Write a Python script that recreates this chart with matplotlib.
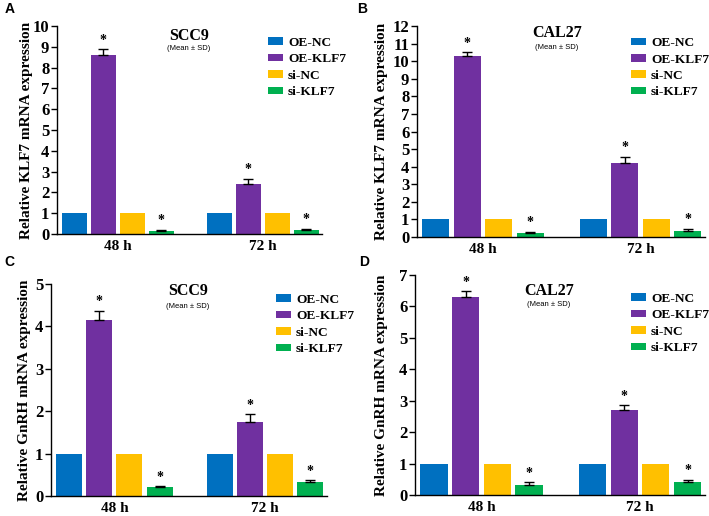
import matplotlib
matplotlib.use("Agg")
import matplotlib.pyplot as plt
import numpy as np

plt.rcParams["font.family"] = "Liberation Serif"
plt.rcParams["font.weight"] = "bold"

groups = ["48 h", "72 h"]
series = ["OE-NC", "OE-KLF7", "si-NC", "si-KLF7"]
colors = ["#0070C0", "#7030A0", "#FFC000", "#00B050"]

# values per series, [48 h, 72 h]
klf7_scc9 = [[1, 1], [8.6, 2.4], [1, 1], [0.15, 0.2]]
klf7_scc9_sd = [[0, 0], [0.28, 0.25], [0, 0], [0.05, 0.05]]
klf7_cal27 = [[1, 1], [10.3, 4.2], [1, 1], [0.25, 0.35]]
klf7_cal27_sd = [[0, 0], [0.2, 0.35], [0, 0], [0.05, 0.12]]
gnrh_scc9 = [[1, 1], [4.15, 1.75], [1, 1], [0.2, 0.32]]
gnrh_scc9_sd = [[0, 0], [0.22, 0.18], [0, 0], [0.03, 0.05]]
gnrh_cal27 = [[1, 1], [6.3, 2.7], [1, 1], [0.33, 0.42]]
gnrh_cal27_sd = [[0, 0], [0.18, 0.15], [0, 0], [0.07, 0.07]]
starred = ["OE-KLF7", "si-KLF7"]

panels = [
    # letter, title, ylabel, values, sd, ymax, axes rect, legend anchor, title pos, ylabel x
    ("A", "SCC9", "Relative KLF7 mRNA expression", klf7_scc9, klf7_scc9_sd, 10,
     [0.0804, 0.5465, 0.3738, 0.4031], (0.796, 0.947), (0.498, 0.952, 0.894), -0.092),
    ("B", "CAL27", "Relative KLF7 mRNA expression", klf7_cal27, klf7_cal27_sd, 12,
     [0.5881, 0.5407, 0.4062, 0.4089], (0.743, 0.947), (0.486, 0.967, 0.896), -0.100),
    ("C", "SCC9", "Relative GnRH mRNA expression", gnrh_scc9, gnrh_scc9_sd, 5,
     [0.0719, 0.0388, 0.3893, 0.4109], (0.815, 0.953), (0.496, 0.967, 0.896), -0.072),
    ("D", "CAL27", "Relative GnRH mRNA expression", gnrh_cal27, gnrh_cal27_sd, 7,
     [0.5853, 0.0407, 0.4090, 0.4264], (0.745, 0.918), (0.462, 0.927, 0.864), -0.093),
]
letter_pos = {"A": (0.006, 0.996), "B": (0.503, 0.996), "C": (0.006, 0.506), "D": (0.506, 0.506)}

fig = plt.figure(figsize=(7.09, 5.16), dpi=100)

for letter, title, ylabel, vals, sds, ymax, rect, leg_xy, tpos, ylx in panels:
    ax = fig.add_axes(rect)
    group_x = np.array([0, 5])
    for i, name in enumerate(series):
        x = group_x + i
        ax.bar(x, vals[i], width=0.86, color=colors[i], label=name, zorder=2)
        if any(sds[i]):
            ax.errorbar(x, vals[i], yerr=[[0, 0], sds[i]], fmt="none", ecolor="black",
                        elinewidth=1, capsize=3.5, capthick=1, zorder=3)
        if name in starred:
            for xx, v, s in zip(x, vals[i], sds[i]):
                ax.text(xx, v + s + ymax * 0.012, "*", ha="center", va="bottom",
                        fontsize=10, fontweight="bold")
    ax.set_xlim(-0.6, 8.55)
    ax.set_ylim(0, ymax)
    ax.set_yticks(range(0, ymax + 1))
    ax.set_xticks(group_x + 1.5)
    ax.set_xticklabels(groups, fontsize=11, fontweight="bold")
    ax.tick_params(axis="x", length=0, pad=4)
    ax.tick_params(axis="y", direction="out", length=4, width=1, pad=1.5, labelsize=12)
    for lab in ax.get_yticklabels():
        lab.set_fontweight("bold")
    for side in ["top", "right"]:
        ax.spines[side].set_visible(False)
    ax.spines["left"].set_linewidth(1)
    ax.spines["bottom"].set_linewidth(1)
    ax.set_ylabel(ylabel, fontsize=11, fontweight="bold")
    ax.yaxis.set_label_coords(ylx, 0.5)
    ax.yaxis.label.set_va("bottom")

    ax.text(tpos[0], tpos[1], title, transform=ax.transAxes, ha="center", va="center",
            fontsize=11.5, fontweight="bold")
    ax.text(tpos[0], tpos[2], "(Mean \u00b1 SD)", transform=ax.transAxes, ha="center",
            va="center", fontsize=5.5, fontweight="normal", family="Liberation Sans")

    ax.legend(loc="upper left", bbox_to_anchor=leg_xy, frameon=False, borderpad=0,
              borderaxespad=0, handlelength=1.15, handleheight=0.5, handletextpad=0.35,
              labelspacing=0.33, prop={"size": 9.6, "weight": "bold"})

    fig.text(letter_pos[letter][0], letter_pos[letter][1], letter, ha="left", va="top",
             fontsize=10, fontweight="bold", family="Liberation Sans")

fig.savefig("out.png", dpi=100)
